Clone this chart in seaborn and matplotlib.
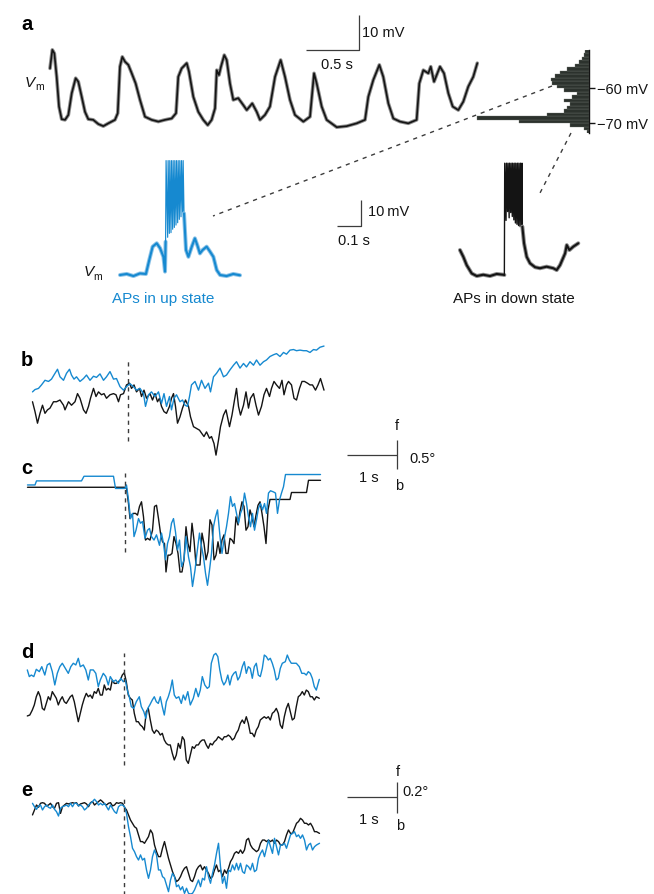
import numpy as np
import pandas as pd
import matplotlib
matplotlib.use("Agg")
import matplotlib.pyplot as plt
from matplotlib.lines import Line2D
import seaborn as sns

sns.set_theme(style="white")
plt.rcParams["font.family"] = ["Liberation Sans", "DejaVu Sans"]

W, H = 654, 894
BLUE = "#1689d0"
BLUE_HAZE = "#8cc3e8"
INK = "#141414"
INK_HAZE = "#8e8e8e"
GREY = "#3c3c3c"
HIST = "#2c322d"

# ---------------- a: membrane potential (s, mV) ----------------
vm_t = [0.000, 0.022, 0.041, 0.063, 0.085, 0.110, 0.142, 0.173, 0.205, 0.242,
        0.267, 0.299, 0.330, 0.361, 0.408, 0.456, 0.503, 0.550, 0.613, 0.639,
        0.660, 0.682, 0.708, 0.739, 0.771, 0.808, 0.849, 0.896, 0.959, 1.022,
        1.085, 1.148, 1.189, 1.210, 1.242, 1.290, 1.311, 1.352, 1.399, 1.446,
        1.488, 1.525, 1.557, 1.573, 1.594, 1.613, 1.644, 1.667, 1.698, 1.729,
        1.776, 1.824, 1.856, 1.908, 1.950, 1.981, 2.028, 2.075, 2.123, 2.176,
        2.217, 2.264, 2.311, 2.390, 2.453, 2.491, 2.516, 2.563, 2.610, 2.705,
        2.799, 2.893, 2.972, 3.003, 3.050, 3.107, 3.144, 3.192, 3.239, 3.302,
        3.380, 3.459, 3.484, 3.522, 3.569, 3.592, 3.623, 3.679, 3.717, 3.758,
        3.799, 3.852, 3.899, 3.946, 3.993, 4.031]
vm_v = [-54.4, -49.1, -50.1, -56.8, -65.3, -68.9, -69.1, -67.7, -61.5, -57.2,
        -58.2, -62.5, -66.8, -68.9, -69.1, -70.3, -70.9, -70.1, -69.1, -67.2,
        -53.9, -51.1, -52.5, -53.4, -55.8, -58.7, -63.4, -68.2, -69.1, -69.6,
        -69.1, -68.7, -67.2, -56.8, -54.4, -52.9, -55.3, -62.5, -66.8, -69.1,
        -70.6, -69.1, -65.8, -54.9, -56.3, -53.9, -50.6, -52.0, -58.7, -63.4,
        -62.9, -64.9, -66.3, -64.4, -66.8, -69.1, -67.7, -65.3, -56.8, -52.0,
        -56.8, -63.4, -67.7, -69.6, -68.2, -55.8, -58.7, -65.3, -69.1, -71.2,
        -70.9, -70.1, -69.1, -62.5, -57.7, -53.4, -56.8, -64.4, -68.7, -69.6,
        -70.1, -69.1, -58.7, -54.9, -55.8, -53.9, -58.2, -53.9, -55.8, -61.5,
        -65.3, -66.3, -63.9, -59.6, -56.8, -52.9]

# Vm distribution (1 mV bins)
hist_mv = [-72.5, -71.5, -70.5, -69.5, -68.5, -67.5, -66.5, -65.5, -64.5, -63.5,
           -62.5, -61.5, -60.5, -59.5, -58.5, -57.5, -56.5, -55.5, -54.5, -53.5,
           -52.5, -51.5, -50.5, -49.5]
hist_n = [2, 5, 19, 70, 112, 42, 25, 22, 19, 25,
          17, 12, 25, 32, 37, 38, 34, 29, 22, 14,
          10, 7, 5, 4]
hist_ticks = [-60, -70]
hist_labels = ["\u221260 mV", "\u221270 mV"]

# APs in up state (s, mV relative to down-state baseline)
up_pre_t = [0.000, 0.028, 0.056, 0.083, 0.108, 0.122, 0.136, 0.153, 0.167, 0.181, 0.1875, 0.190]
up_pre_v = [0.0, 0.4, -0.4, 0.6, 0.4, 5.8, 10.9, 12.2, 10.3, 7.0, 1.3, 12.8]
up_burst_t = [0.1900, 0.1920, 0.1986, 0.2005, 0.2056, 0.2075, 0.2125, 0.2145, 0.2194, 0.2214,
              0.2264, 0.2284, 0.2333, 0.2353, 0.2403, 0.2423, 0.2472, 0.2492, 0.2542, 0.2562,
              0.2611, 0.2631, 0.2667]
up_burst_v = [12.8, 44, 14.5, 44, 16.0, 44, 16.3, 44, 17.6, 44,
              18.3, 44, 19.2, 44, 20.1, 44, 21.4, 44, 22.4, 44,
              23.5, 44, 23.7]
up_post_t = [0.2667, 0.275, 0.285, 0.299, 0.312, 0.322, 0.333, 0.344, 0.361, 0.375,
             0.389, 0.403, 0.417, 0.444, 0.472, 0.500]
up_post_v = [23.7, 9.6, 7.0, 10.9, 14.1, 11.5, 8.3, 9.6, 10.9, 9.0,
             7.0, 1.9, 0.0, -0.4, 0.4, -0.1]

# APs in down state
dn_pre_t = [0.004, 0.018, 0.032, 0.053, 0.074, 0.101, 0.129, 0.157, 0.185, 0.189]
dn_pre_v = [9.6, 7.0, 3.8, 0.6, -0.4, 0.1, -0.4, 0.4, 0.1, 0.0]
dn_burst_t = [0.1890, 0.1905, 0.1960, 0.1975, 0.2025, 0.2040, 0.2090, 0.2105, 0.2155, 0.2170,
              0.2220, 0.2235, 0.2285, 0.2300, 0.2350, 0.2365, 0.2415, 0.2430, 0.2480, 0.2495,
              0.2545, 0.2560, 0.2610, 0.2625, 0.2640]
dn_burst_v = [0.0, 43, 21.0, 43, 24.4, 43, 22.0, 43, 24.0, 43,
              22.5, 43, 21.2, 43, 20.0, 43, 19.5, 43, 19.0, 43,
              18.6, 43, 18.6, 43, 18.6]
dn_post_t = [0.2640, 0.271, 0.282, 0.296, 0.317, 0.3375, 0.365, 0.393, 0.407, 0.421,
             0.442, 0.449, 0.460, 0.476, 0.497]
dn_post_v = [18.6, 12.2, 7.0, 4.5, 3.0, 2.6, 3.2, 2.6, 1.9, 3.8,
             8.3, 11.5, 9.6, 10.9, 12.2]

# ---------------- b: eye position (s, deg) ----------------
b_blue_t = [-1.91, -1.86, -1.79, -1.73, -1.66, -1.59, -1.53, -1.46, -1.41, -1.36,
            -1.29, -1.23, -1.17, -1.13, -1.08, -1.03, -0.96, -0.89, -0.83, -0.76,
            -0.69, -0.63, -0.56, -0.49, -0.43, -0.36, -0.29, -0.23, -0.16, -0.09,
            -0.03, 0.04, 0.11, 0.17, 0.24, 0.31, 0.35, 0.41, 0.47, 0.54,
            0.61, 0.67, 0.72, 0.77, 0.83, 0.87, 0.92, 0.97, 1.04, 1.09,
            1.14, 1.19, 1.23, 1.27, 1.34, 1.41, 1.47, 1.54, 1.61, 1.65,
            1.71, 1.77, 1.84, 1.91, 1.97, 2.04, 2.11, 2.17, 2.24, 2.31,
            2.37, 2.44, 2.51, 2.57, 2.64, 2.71, 2.77, 2.84, 2.91, 2.97,
            3.04, 3.11, 3.17, 3.24, 3.31, 3.37, 3.44, 3.51, 3.57, 3.64,
            3.71, 3.77, 3.84, 3.92]
b_blue_v = [0.14, 0.18, 0.20, 0.26, 0.34, 0.32, 0.36, 0.46, 0.53, 0.40,
            0.34, 0.46, 0.53, 0.43, 0.36, 0.40, 0.32, 0.37, 0.43, 0.34,
            0.41, 0.39, 0.45, 0.34, 0.40, 0.49, 0.36, 0.37, 0.23, 0.17,
            0.23, 0.28, 0.23, 0.17, 0.20, 0.11, -0.11, 0.09, 0.14, 0.06,
            0.14, -0.06, 0.11, -0.11, 0.06, -0.17, 0.03, 0.09, -0.03, 0.00,
            -0.09, -0.11, 0.06, 0.26, 0.32, 0.17, 0.34, 0.20, 0.29, 0.14,
            0.40, 0.46, 0.55, 0.40, 0.43, 0.52, 0.60, 0.66, 0.55, 0.63,
            0.57, 0.66, 0.60, 0.69, 0.60, 0.66, 0.69, 0.75, 0.78, 0.80,
            0.75, 0.82, 0.79, 0.86, 0.87, 0.85, 0.86, 0.85, 0.85, 0.82,
            0.87, 0.86, 0.91, 0.93]
b_black_t = [-1.91, -1.86, -1.81, -1.76, -1.71, -1.66, -1.61, -1.56, -1.49, -1.43,
             -1.36, -1.29, -1.26, -1.19, -1.13, -1.06, -1.01, -0.96, -0.89, -0.84,
             -0.79, -0.75, -0.69, -0.64, -0.59, -0.53, -0.48, -0.43, -0.36, -0.29,
             -0.24, -0.19, -0.15, -0.09, -0.03, 0.03, 0.07, 0.12, 0.17, 0.23,
             0.27, 0.32, 0.37, 0.44, 0.49, 0.54, 0.59, 0.63, 0.67, 0.72,
             0.77, 0.83, 0.87, 0.91, 0.95, 0.99, 1.04, 1.09, 1.15, 1.21,
             1.25, 1.31, 1.37, 1.43, 1.47, 1.52, 1.57, 1.63, 1.67, 1.72,
             1.76, 1.81, 1.85, 1.91, 1.96, 2.03, 2.08, 2.13, 2.17, 2.21,
             2.25, 2.31, 2.36, 2.41, 2.45, 2.51, 2.56, 2.61, 2.67, 2.72,
             2.77, 2.83, 2.87, 2.92, 2.97, 3.03, 3.08, 3.12, 3.17, 3.21,
             3.27, 3.32, 3.37, 3.43, 3.48, 3.53, 3.59, 3.64, 3.69, 3.75,
             3.80, 3.85, 3.92]
b_black_v = [-0.03, -0.20, -0.40, -0.23, -0.09, -0.23, -0.17, -0.14, -0.03, -0.03,
             0.00, -0.09, -0.17, -0.03, -0.09, -0.03, 0.11, 0.03, -0.17, -0.23,
             -0.11, 0.03, 0.20, 0.06, 0.14, 0.09, 0.11, 0.03, 0.09, 0.11,
             0.09, -0.03, 0.09, 0.11, 0.26, 0.29, 0.20, 0.26, 0.14, 0.20,
             0.06, 0.17, 0.03, 0.11, 0.00, 0.11, -0.03, 0.03, -0.11, -0.20,
             -0.23, -0.11, 0.03, 0.11, -0.11, -0.40, -0.29, -0.14, 0.00, -0.11,
             -0.29, -0.46, -0.49, -0.52, -0.57, -0.63, -0.55, -0.66, -0.63, -0.75,
             -0.95, -0.69, -0.46, -0.26, -0.17, -0.46, -0.26, 0.00, 0.20, -0.11,
             -0.26, -0.09, 0.14, -0.14, 0.03, 0.11, -0.09, -0.26, -0.11, 0.09,
             0.20, 0.06, 0.20, 0.32, 0.26, 0.20, 0.34, 0.09, 0.26, 0.32,
             0.26, 0.03, 0.00, 0.20, 0.32, 0.32, 0.29, 0.26, 0.26, 0.17,
             0.26, 0.37, 0.17]

# ---------------- c ----------------
c_blue_t = [-1.95, -1.80, -1.77, -0.87, -0.82, -0.23, -0.19, 0.00, 0.03, 0.07,
            0.11, 0.15, 0.18, 0.22, 0.27, 0.31, 0.35, 0.40, 0.45, 0.49,
            0.53, 0.58, 0.63, 0.69, 0.73, 0.77, 0.81, 0.85, 0.89, 0.93,
            0.97, 1.01, 1.05, 1.09, 1.13, 1.18, 1.22, 1.27, 1.31, 1.35,
            1.40, 1.43, 1.49, 1.53, 1.57, 1.61, 1.65, 1.69, 1.73, 1.77,
            1.81, 1.85, 1.90, 1.94, 1.98, 2.03, 2.07, 2.11, 2.15, 2.19,
            2.23, 2.27, 2.31, 2.35, 2.39, 2.43, 2.47, 2.51, 2.55, 2.59,
            2.63, 2.67, 2.71, 2.75, 2.79, 2.83, 2.87, 2.91, 2.97, 3.01,
            3.05, 3.09, 3.13, 3.17, 3.21, 3.91]
c_blue_v = [0.03, 0.03, 0.10, 0.10, 0.18, 0.18, -0.03, -0.03, 0.03, -0.23,
            -0.55, -0.46, -0.86, -0.75, -0.55, -0.63, -0.60, -0.89, -0.75, -0.72,
            -0.86, -0.92, -0.83, -1.01, -0.80, -0.98, -1.26, -0.98, -0.86, -0.63,
            -0.55, -0.78, -1.09, -0.92, -1.38, -1.26, -0.86, -1.21, -1.38, -1.72,
            -1.44, -1.21, -0.80, -1.03, -1.21, -1.49, -1.70, -1.44, -1.15, -0.69,
            -0.52, -0.40, -0.86, -1.15, -0.92, -0.69, -0.46, -0.17, -0.34, -0.29,
            -0.46, -0.63, -0.46, -0.37, -0.11, -0.29, -0.52, -0.69, -0.46, -0.75,
            -0.57, -0.37, -0.29, -0.40, -0.29, -0.46, -0.11, -0.07, -0.09, -0.11,
            -0.46, -0.23, -0.11, 0.00, 0.21, 0.21]
c_black_t = [-1.95, 0.00, 0.03, 0.07, 0.10, 0.13, 0.17, 0.21, 0.25, 0.29,
             0.33, 0.37, 0.41, 0.45, 0.50, 0.55, 0.59, 0.63, 0.67, 0.71,
             0.75, 0.79, 0.82, 0.86, 0.90, 0.94, 0.98, 1.02, 1.06, 1.10,
             1.14, 1.18, 1.22, 1.26, 1.30, 1.34, 1.38, 1.42, 1.46, 1.50,
             1.54, 1.58, 1.62, 1.66, 1.70, 1.74, 1.78, 1.82, 1.86, 1.90,
             1.94, 1.98, 2.02, 2.06, 2.10, 2.14, 2.18, 2.22, 2.26, 2.30,
             2.34, 2.38, 2.42, 2.46, 2.50, 2.54, 2.58, 2.62, 2.66, 2.70,
             2.74, 2.78, 2.82, 2.86, 2.90, 3.30, 3.33, 3.63, 3.67, 3.91]
c_black_v = [-0.01, -0.01, -0.03, -0.29, -0.55, -0.49, -0.46, -0.46, -0.49, -0.34,
             -0.26, -0.52, -0.92, -0.89, -0.92, -0.75, -0.34, -0.32, -0.55, -0.80,
             -0.95, -0.98, -1.47, -1.18, -1.18, -1.15, -0.86, -0.98, -1.15, -1.47,
             -1.47, -1.26, -0.69, -0.98, -1.12, -0.63, -0.92, -1.35, -1.35, -1.35,
             -0.80, -0.98, -1.26, -1.12, -0.57, -0.66, -1.26, -1.18, -0.95, -1.15,
             -0.92, -0.83, -1.15, -1.15, -0.89, -0.92, -0.98, -0.52, -0.66, -0.43,
             -0.26, -0.34, -0.75, -0.69, -0.40, -0.52, -0.69, -0.49, -0.32, -0.26,
             -0.46, -0.69, -0.98, -0.40, -0.22, -0.22, -0.10, -0.10, 0.11, 0.11]

# ---------------- d ----------------
d_blue_t = [-1.94, -1.90, -1.86, -1.81, -1.76, -1.70, -1.65, -1.59, -1.54, -1.49,
            -1.44, -1.39, -1.34, -1.29, -1.24, -1.18, -1.12, -1.07, -1.02, -0.97,
            -0.92, -0.88, -0.82, -0.77, -0.72, -0.68, -0.62, -0.57, -0.52, -0.48,
            -0.42, -0.37, -0.32, -0.28, -0.22, -0.17, -0.12, -0.07, -0.02, 0.02,
            0.06, 0.10, 0.14, 0.19, 0.24, 0.30, 0.34, 0.39, 0.43, 0.47,
            0.51, 0.56, 0.60, 0.64, 0.68, 0.72, 0.76, 0.80, 0.84, 0.88,
            0.92, 0.96, 1.00, 1.04, 1.09, 1.14, 1.18, 1.22, 1.27, 1.32,
            1.38, 1.43, 1.48, 1.52, 1.56, 1.61, 1.66, 1.70, 1.74, 1.79,
            1.83, 1.87, 1.91, 1.95, 1.99, 2.03, 2.07, 2.11, 2.15, 2.19,
            2.23, 2.27, 2.31, 2.36, 2.40, 2.44, 2.48, 2.52, 2.56, 2.60,
            2.64, 2.68, 2.72, 2.76, 2.80, 2.84, 2.88, 2.92, 2.96, 3.00,
            3.04, 3.08, 3.12, 3.16, 3.22, 3.26, 3.30, 3.34, 3.39, 3.44,
            3.50, 3.55, 3.60, 3.64, 3.68, 3.72, 3.76, 3.80, 3.84, 3.90]
d_blue_v = [0.065, 0.022, 0.032, 0.022, 0.069, 0.054, 0.086, 0.032, 0.097, 0.108,
            0.054, -0.032, 0.043, 0.086, 0.108, 0.075, 0.043, 0.086, 0.108, 0.097,
            0.140, 0.086, 0.097, 0.065, 0.000, 0.065, 0.065, 0.043, -0.043, 0.000,
            0.043, 0.022, -0.032, 0.022, -0.011, 0.000, -0.022, 0.011, -0.011, 0.000,
            -0.065, -0.108, -0.172, -0.183, -0.140, -0.108, -0.172, -0.204, -0.247, -0.183,
            -0.161, -0.129, -0.108, -0.140, -0.151, -0.108, -0.172, -0.226, -0.140, -0.108,
            -0.065, 0.000, -0.097, -0.118, -0.108, -0.151, -0.097, -0.129, -0.075, -0.161,
            -0.118, -0.054, -0.108, -0.065, 0.022, -0.032, -0.054, -0.043, 0.108, 0.161,
            0.172, 0.151, 0.065, 0.000, -0.032, -0.011, 0.032, -0.032, 0.022, 0.043,
            0.054, 0.000, 0.022, 0.086, 0.118, 0.043, 0.086, 0.075, 0.011, 0.086,
            0.108, 0.032, 0.022, 0.075, 0.161, 0.151, 0.129, 0.140, 0.108, 0.065,
            0.000, 0.011, 0.075, 0.108, 0.118, 0.161, 0.129, 0.108, 0.108, 0.108,
            0.086, 0.043, 0.043, 0.032, 0.054, 0.043, 0.011, -0.043, -0.065, 0.004]
d_black_t = [-1.94, -1.89, -1.84, -1.80,
             -1.76, -1.72, -1.68, -1.64, -1.60, -1.56, -1.52, -1.48, -1.44, -1.40,
             -1.36, -1.32, -1.28, -1.24, -1.20, -1.16, -1.12, -1.08, -1.04, -1.00,
             -0.96, -0.92, -0.88, -0.84, -0.80, -0.76, -0.72, -0.68, -0.64, -0.60,
             -0.56, -0.52, -0.48, -0.44, -0.40, -0.36, -0.32, -0.28, -0.24, -0.20,
             -0.16, -0.12, -0.08, -0.04, 0.00, 0.04, 0.08, 0.12, 0.16, 0.20,
             0.24, 0.28, 0.32, 0.36, 0.40, 0.44, 0.48, 0.52, 0.56, 0.60,
             0.64, 0.68, 0.72, 0.76, 0.80, 0.84, 0.88, 0.92, 0.96, 1.00,
             1.04, 1.08, 1.12, 1.16, 1.20, 1.24, 1.28, 1.32, 1.36, 1.40,
             1.44, 1.48, 1.52, 1.56, 1.60, 1.64, 1.68, 1.72, 1.76, 1.80,
             1.84, 1.88, 1.92, 1.96, 2.00, 2.04, 2.08, 2.12, 2.16, 2.20,
             2.24, 2.28, 2.32, 2.36, 2.40, 2.44, 2.48, 2.52, 2.56, 2.60,
             2.64, 2.68, 2.72, 2.76, 2.80, 2.84, 2.88, 2.92, 2.96, 3.00,
             3.04, 3.08, 3.12, 3.16, 3.20, 3.24, 3.28, 3.32, 3.36, 3.40,
             3.44, 3.48, 3.52, 3.56, 3.60, 3.64, 3.68, 3.72, 3.76, 3.80,
             3.84, 3.90]
d_black_v = [-0.232, -0.226, -0.194, -0.161, -0.108, -0.075, -0.108, -0.183, -0.194, -0.151,
             -0.108, -0.129, -0.075, -0.097, -0.118, -0.161, -0.129, -0.108, -0.140, -0.151,
             -0.129, -0.108, -0.097, -0.140, -0.204, -0.269, -0.215, -0.161, -0.118, -0.086,
             -0.108, -0.097, -0.118, -0.075, -0.086, -0.054, -0.097, -0.097, -0.032, -0.065,
             -0.054, -0.065, 0.000, -0.022, -0.022, -0.011, 0.000, 0.032, 0.047, -0.011,
             -0.097, -0.118, -0.129, -0.215, -0.269, -0.269, -0.290, -0.301, -0.323, -0.204,
             -0.183, -0.258, -0.323, -0.344, -0.323, -0.333, -0.355, -0.344, -0.387, -0.409,
             -0.419, -0.419, -0.473, -0.516, -0.484, -0.409, -0.441, -0.366, -0.387, -0.516,
             -0.538, -0.484, -0.430, -0.441, -0.419, -0.419, -0.398, -0.387, -0.387, -0.419,
             -0.441, -0.409, -0.419, -0.398, -0.387, -0.366, -0.376, -0.387, -0.366, -0.366,
             -0.355, -0.366, -0.387, -0.376, -0.344, -0.323, -0.280, -0.258, -0.280, -0.237,
             -0.280, -0.344, -0.344, -0.366, -0.323, -0.301, -0.258, -0.247, -0.237, -0.247,
             -0.237, -0.258, -0.215, -0.204, -0.183, -0.215, -0.290, -0.312, -0.237, -0.183,
             -0.151, -0.204, -0.258, -0.247, -0.172, -0.108, -0.097, -0.075, -0.097, -0.065,
             -0.075, -0.108, -0.108, -0.129, -0.108, -0.118]

# ---------------- e ----------------
e_t = [-1.83, -1.79, -1.75,
       -1.71, -1.67, -1.63, -1.59, -1.55, -1.51, -1.47, -1.43, -1.39, -1.35,
       -1.31, -1.27, -1.23, -1.19, -1.15, -1.11, -1.07, -1.03, -0.99, -0.95,
       -0.91, -0.87, -0.83, -0.79, -0.75, -0.71, -0.67, -0.63, -0.59, -0.55,
       -0.51, -0.47, -0.43, -0.39, -0.35, -0.31, -0.27, -0.23, -0.19, -0.15,
       -0.11, -0.07, -0.03, 0.01, 0.05, 0.09, 0.13, 0.17, 0.21, 0.25,
       0.29, 0.33, 0.37, 0.41, 0.45, 0.49, 0.53, 0.57, 0.61, 0.65,
       0.69, 0.73, 0.77, 0.81, 0.85, 0.89, 0.93, 0.97, 1.01, 1.05,
       1.09, 1.13, 1.17, 1.21, 1.25, 1.29, 1.33, 1.37, 1.41, 1.45,
       1.49, 1.53, 1.57, 1.61, 1.65, 1.69, 1.73, 1.77, 1.81, 1.85,
       1.89, 1.93, 1.97, 2.01, 2.05, 2.09, 2.13, 2.17, 2.21, 2.25,
       2.29, 2.33, 2.37, 2.41, 2.45, 2.49, 2.53, 2.57, 2.61, 2.65,
       2.69, 2.73, 2.77, 2.81, 2.85, 2.89, 2.93, 2.97, 3.01, 3.05,
       3.09, 3.13, 3.17, 3.21, 3.25, 3.29, 3.33, 3.37, 3.41, 3.45,
       3.49, 3.53, 3.57, 3.61, 3.65, 3.69, 3.73, 3.77, 3.81, 3.85,
       3.91]
e_blue_v = [0.000, -0.022, -0.039, -0.017, -0.011, -0.043, -0.022, -0.011, -0.026, -0.032,
            -0.011, -0.039, -0.054, -0.082, -0.032, -0.022, -0.017, -0.011, -0.022, 0.000,
            -0.022, 0.000, 0.000, -0.017, -0.011, -0.022, -0.043, -0.032, -0.011, 0.000,
            0.011, 0.026, 0.011, -0.011, 0.000, -0.011, 0.000, -0.022, -0.043, -0.011,
            -0.032, -0.054, -0.065, -0.022, -0.011, -0.011, -0.022, -0.065, -0.151, -0.215,
            -0.290, -0.312, -0.344, -0.366, -0.333, -0.366, -0.355, -0.430, -0.484, -0.430,
            -0.344, -0.301, -0.333, -0.430, -0.430, -0.473, -0.484, -0.527, -0.570, -0.495,
            -0.452, -0.473, -0.538, -0.527, -0.559, -0.538, -0.581, -0.548, -0.581, -0.585,
            -0.581, -0.559, -0.527, -0.495, -0.538, -0.484, -0.495, -0.409, -0.473, -0.516,
            -0.452, -0.398, -0.323, -0.258, -0.409, -0.516, -0.473, -0.548, -0.430, -0.441,
            -0.398, -0.430, -0.387, -0.430, -0.387, -0.441, -0.452, -0.398, -0.409, -0.430,
            -0.387, -0.441, -0.430, -0.355, -0.323, -0.301, -0.344, -0.290, -0.237, -0.280,
            -0.323, -0.226, -0.280, -0.333, -0.269, -0.269, -0.258, -0.290, -0.247, -0.204,
            -0.194, -0.183, -0.215, -0.204, -0.226, -0.204, -0.237, -0.301, -0.269, -0.258,
            -0.301, -0.280, -0.269, -0.258]
e_black_v = [-0.075, -0.043, -0.011, -0.026, 0.000, 0.004, 0.000, -0.017, -0.011, 0.000,
             -0.022, -0.032, 0.000, 0.004, -0.065, -0.022, -0.011, 0.000, -0.004, 0.000,
             0.004, 0.000, 0.004, -0.017, -0.004, 0.000, 0.004, -0.004, -0.022, 0.004,
             0.011, -0.011, 0.000, 0.011, 0.022, 0.011, -0.004, -0.011, 0.000, 0.004,
             -0.017, -0.011, 0.004, 0.000, 0.004, 0.000, -0.026, -0.043, -0.075, -0.108,
             -0.129, -0.151, -0.161, -0.204, -0.247, -0.247, -0.258, -0.237, -0.215, -0.172,
             -0.194, -0.269, -0.312, -0.344, -0.344, -0.290, -0.247, -0.301, -0.355, -0.398,
             -0.441, -0.473, -0.505, -0.495, -0.473, -0.441, -0.419, -0.409, -0.452, -0.495,
             -0.505, -0.473, -0.430, -0.409, -0.398, -0.430, -0.409, -0.430, -0.452, -0.484,
             -0.473, -0.430, -0.398, -0.441, -0.430, -0.473, -0.430, -0.452, -0.419, -0.376,
             -0.355, -0.323, -0.312, -0.323, -0.301, -0.323, -0.301, -0.237, -0.226, -0.269,
             -0.290, -0.301, -0.312, -0.301, -0.258, -0.237, -0.237, -0.247, -0.237, -0.247,
             -0.237, -0.258, -0.237, -0.247, -0.269, -0.269, -0.247, -0.204, -0.172, -0.194,
             -0.194, -0.161, -0.129, -0.118, -0.097, -0.108, -0.129, -0.129, -0.140, -0.129,
             -0.151, -0.183, -0.183, -0.194]

# ---------------- layout helpers ----------------
fig = plt.figure(figsize=(W / 100, H / 100), dpi=100)
fig.patch.set_facecolor("white")


def panel(x0, sx, y0, sy, xlim, ylim, off=True):
    """Axes whose data origin sits at pixel (x0, y0), sx/sy pixels per unit."""
    xa, xb = x0 + xlim[0] * sx, x0 + xlim[1] * sx
    top, bottom = y0 - ylim[1] * sy, y0 - ylim[0] * sy
    left, right = min(xa, xb), max(xa, xb)
    ax = fig.add_axes([left / W, 1 - bottom / H, (right - left) / W, (bottom - top) / H])
    ax.patch.set_alpha(0)
    ax._lims = ((xlim[0], xlim[1]) if xa <= xb else (xlim[1], xlim[0]), ylim)
    if off:
        ax.set_axis_off()
    ax.set_xlim(*ax._lims[0])
    ax.set_ylim(*ax._lims[1])
    return ax


def relim(ax):
    ax.set_xlim(*ax._lims[0])
    ax.set_ylim(*ax._lims[1])


def trace(ax, t, v, color, lw, haze=None):
    # recordings with visible noise get a soft band underneath the core line
    if haze is not None:
        sns.lineplot(x=t, y=v, ax=ax, color=haze, linewidth=lw + 1.4,
                     estimator=None, sort=False, legend=False)
    sns.lineplot(x=t, y=v, ax=ax, color=color, linewidth=lw,
                 estimator=None, sort=False, legend=False)
    relim(ax)


def text(x, y, s, **kw):
    kw.setdefault("fontsize", 10.5)
    kw.setdefault("color", INK)
    kw.setdefault("va", "baseline")
    fig.text(x / W, 1 - y / H, s, **kw)


def bar(ax, xs, ys, color=GREY, lw=0.9):
    ax.plot(xs, ys, color=color, lw=lw, clip_on=False, solid_capstyle="butt")


def tzero(ax, lo, hi):
    ax.plot([0, 0], [lo, hi], color=GREY, lw=1.0, ls=(0, (3, 3)), clip_on=False)


def fig_dash(p, q):
    fig.add_artist(Line2D([p[0] / W, q[0] / W], [1 - p[1] / H, 1 - q[1] / H],
                          transform=fig.transFigure, color=GREY, lw=1.0,
                          ls=(0, (3, 3.5))))

# ---------------- a ----------------
ax_vm = panel(50, 106, -122, 3.5, (-0.04, 4.1), (-75, -37))
trace(ax_vm, vm_t, vm_v, INK, 1.2, haze=INK_HAZE)
bar(ax_vm, [2.415, 2.915, 2.915], [-49.14, -49.14, -39.14])
text(21, 30.5, "a", fontsize=14.5, fontweight="bold", color="black")
text(25, 87, "V", fontsize=11, style="italic")
text(35, 90.5, "m", fontsize=7.5)
text(337, 69, "0.5 s", ha="center")
text(362, 37, "10 mV")

ax_h = panel(588.5, -1, -122, 3.5, (0, 115), (-72.9, -49.1), off=False)
hist_df = pd.DataFrame({"mv": hist_mv, "n": hist_n})
sns.histplot(data=hist_df, y="mv", weights="n", binwidth=1, binrange=(-73, -49),
             ax=ax_h, color=HIST, alpha=1, edgecolor="#6f756f", linewidth=0.25)
relim(ax_h)
for side in ("left", "top", "bottom"):
    ax_h.spines[side].set_visible(False)
ax_h.spines["right"].set_visible(True)
ax_h.spines["right"].set_color(INK)
ax_h.spines["right"].set_linewidth(1.0)
ax_h.set_xticks([])
ax_h.yaxis.tick_right()
ax_h.set_yticks(hist_ticks)
ax_h.set_yticklabels(hist_labels)
ax_h.tick_params(axis="y", direction="out", length=4, width=1.0, pad=2,
                 labelsize=10.5, colors=INK, right=True, left=False)
ax_h.set_xlabel("")
ax_h.set_ylabel("")

fig_dash((552, 86), (213, 216))
fig_dash((571, 133), (540, 193))

ax_up = panel(120, 240, 275, 2.6, (-0.02, 1.1), (-4, 46))
trace(ax_up, up_pre_t, up_pre_v, BLUE, 1.5, haze=BLUE_HAZE)
trace(ax_up, up_burst_t, up_burst_v, BLUE, 0.85)
trace(ax_up, up_post_t, up_post_v, BLUE, 1.5, haze=BLUE_HAZE)
bar(ax_up, [0.903, 1.003, 1.003], [18.85, 18.85, 28.85])
text(84, 276, "V", fontsize=11, style="italic")
text(93.5, 280, "m", fontsize=7.5)
text(163, 303, "APs in up state", ha="center", color=BLUE, fontsize=11)
text(368, 216, "10\u2009mV")
text(338, 245, "0.1 s")

ax_dn = panel(459, 240, 275, 2.6, (-0.02, 0.52), (-4, 46))
trace(ax_dn, dn_pre_t, dn_pre_v, INK, 1.5, haze=INK_HAZE)
trace(ax_dn, dn_burst_t, dn_burst_v, INK, 1.0)
trace(ax_dn, dn_post_t, dn_post_v, INK, 1.5, haze=INK_HAZE)
text(514, 303, "APs in down state", ha="center", fontsize=11)

# ---------------- b / c ----------------
ax_b = panel(128, 50, 400, 58, (-2.0, 5.5), (-1.3, 1.1))
trace(ax_b, b_black_t, b_black_v, INK, 1.0)
trace(ax_b, b_blue_t, b_blue_v, BLUE, 1.0)
tzero(ax_b, -0.707, 0.69)
bar(ax_b, [4.374, 5.374], [-0.948, -0.948])
bar(ax_b, [5.374, 5.374], [-0.69, -1.19])
text(21, 365.5, "b", fontsize=14.5, fontweight="bold", color="black")
text(397, 430, "f", ha="center")
text(409, 463, "0.5\u00b0")
text(369, 481.5, "1 s", ha="center")
text(399.5, 490, "b", ha="center")

ax_c = panel(125, 50, 486.7, 58, (-2.0, 4.0), (-1.8, 0.3))
trace(ax_c, c_black_t, c_black_v, INK, 1.0)
trace(ax_c, c_blue_t, c_blue_v, BLUE, 1.0)
tzero(ax_c, -1.126, 0.236)
text(21, 473.5, "c", fontsize=14.5, fontweight="bold", color="black")

# ---------------- d / e ----------------
ax_d = panel(124.3, 50, 680, 155, (-2.0, 4.0), (-0.6, 0.2))
trace(ax_d, d_black_t, d_black_v, INK, 1.0)
trace(ax_d, d_blue_t, d_blue_v, BLUE, 1.0)
tzero(ax_d, -0.548, 0.174)
text(21, 657.5, "d", fontsize=14.5, fontweight="bold", color="black")

ax_e = panel(124, 50, 803.3, 155, (-2.0, 5.6), (-0.6, 0.2))
trace(ax_e, e_t, e_black_v, INK, 1.0)
trace(ax_e, e_t, e_blue_v, BLUE, 1.0)
tzero(ax_e, -0.6, 0.054)
bar(ax_e, [4.454, 5.454], [0.039, 0.039])
bar(ax_e, [5.454, 5.454], [0.135, -0.065])
text(21, 795.5, "e", fontsize=14.5, fontweight="bold", color="black")
text(398.3, 776, "f", ha="center")
text(402.5, 796, "0.2\u00b0")
text(369, 824, "1 s", ha="center")
text(400, 830, "b", ha="center")

fig.savefig("out.png", dpi=100, facecolor="white")
